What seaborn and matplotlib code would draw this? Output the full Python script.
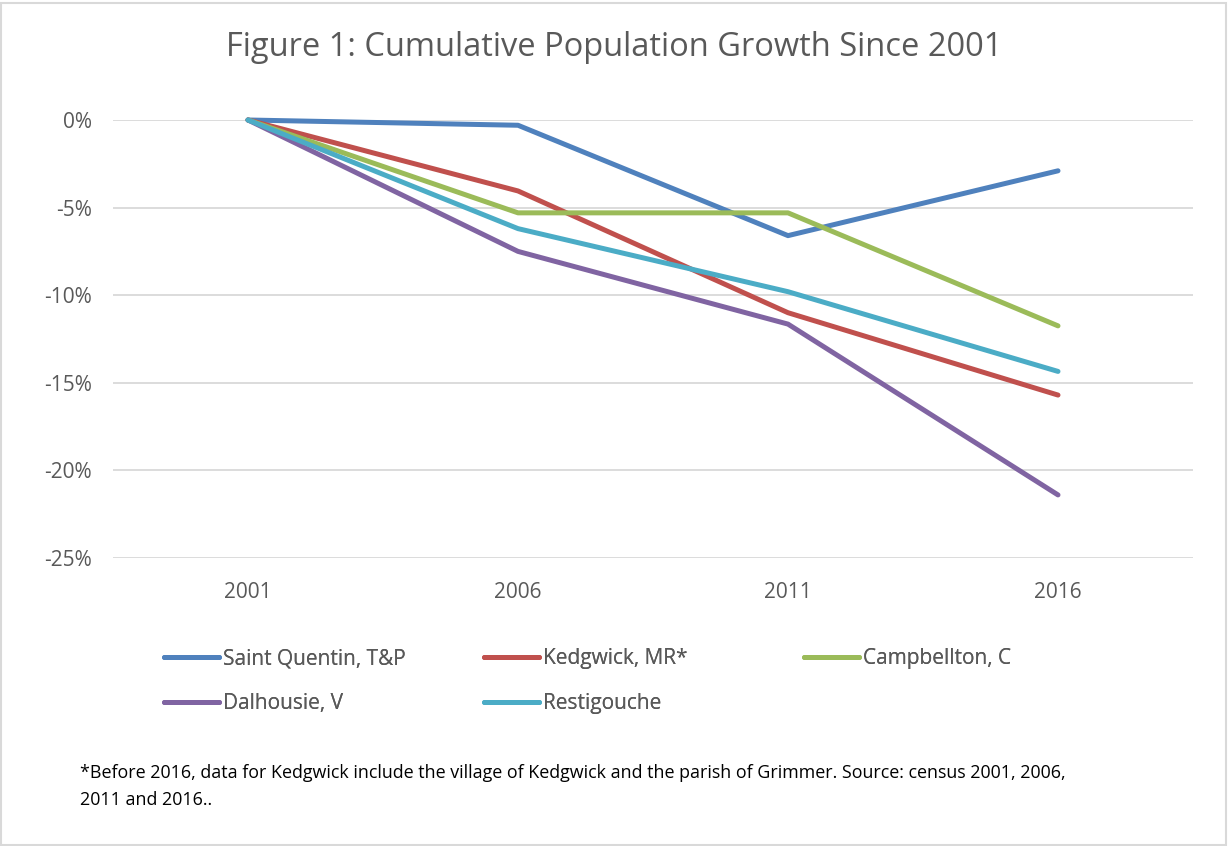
import matplotlib
matplotlib.use("Agg")
import matplotlib.pyplot as plt
from matplotlib.patches import Rectangle
from matplotlib.ticker import FuncFormatter
import seaborn as sns
import pandas as pd

years = ["2001", "2006", "2011", "2016"]
saint_quentin = [0.0, -0.3, -6.6, -2.9]
kedgwick = [0.0, -4.05, -11.0, -15.7]
campbellton = [0.0, -5.3, -5.3, -11.75]
dalhousie = [0.0, -7.5, -11.65, -21.4]
restigouche = [0.0, -6.2, -9.8, -14.35]

series_names = ["Saint Quentin, T&P", "Kedgwick, MR*", "Campbellton, C",
                "Dalhousie, V", "Restigouche"]
series_values = [saint_quentin, kedgwick, campbellton, dalhousie, restigouche]
colors = ["#4F81BD", "#C0504D", "#9BBB59", "#8064A2", "#4BACC6"]

rows = []
for name, vals in zip(series_names, series_values):
    for yr, v in zip(years, vals):
        rows.append({"Year": yr, "Growth": v, "Area": name})
df = pd.DataFrame(rows)

sns.set_theme(style="white")
plt.rcParams["font.family"] = ["Open Sans", "DejaVu Sans"]
text_color = "#595959"

fig = plt.figure(figsize=(12.28, 8.46), dpi=100)
ax = fig.add_axes([113 / 1228, 1 - 558 / 846, (1193 - 113) / 1228, (558 - 120) / 846])

sns.lineplot(data=df, x="Year", y="Growth", hue="Area", hue_order=series_names,
             palette=colors, linewidth=3.6, ax=ax, sort=False, legend=True)
for line in ax.lines:
    line.set_clip_on(False)
    line.set_solid_capstyle("round")

ax.set_ylim(-25, 0)
ax.set_xlim(-0.5, 3.5)
ax.set_yticks([0, -5, -10, -15, -20, -25])
ax.yaxis.set_major_formatter(FuncFormatter(lambda v, p: f"{int(round(v))}%"))
ax.grid(axis="y", color="#D9D9D9", linewidth=1.3)
ax.set_axisbelow(True)
for s in ax.spines.values():
    s.set_visible(False)
ax.set_xlabel("")
ax.set_ylabel("")
ax.tick_params(axis="both", length=0, labelsize=15, labelcolor=text_color)
ax.tick_params(axis="y", pad=15)
ax.tick_params(axis="x", pad=17)

handles, labels = ax.get_legend_handles_labels()
ax.get_legend().remove()

# legend laid out as three fixed-width columns
columns = [[0, 3], [1, 4], [2]]
col_x = [160, 480, 800]
for xs, idx in zip(col_x, columns):
    leg = fig.legend([handles[i] for i in idx], [labels[i] for i in idx],
                     ncol=1, loc="upper left",
                     bbox_to_anchor=(xs / 1228, 1 - 644 / 846),
                     frameon=False, fontsize=15, handlelength=2.64,
                     handletextpad=0.2, labelspacing=1.15,
                     labelcolor=text_color, borderaxespad=0, borderpad=0.2)
    for h in leg.get_lines():
        h.set_linewidth(3.6)
        h.set_solid_capstyle("round")
    fig.add_artist(leg)

fig.text(0.5, 1 - 48 / 846, "Figure 1: Cumulative Population Growth Since 2001",
         ha="center", va="center", fontsize=23.5, color=text_color)

fig.text(80 / 1228, 1 - 773 / 846,
         "*Before 2016, data for Kedgwick include the village of Kedgwick and the parish of Grimmer. Source: census 2001, 2006,",
         ha="left", va="center", fontsize=12.9, color="#000000")
fig.text(80 / 1228, 1 - 800 / 846, "2011 and 2016..",
         ha="left", va="center", fontsize=12.9, color="#000000")

fig.patches.append(Rectangle((1.5 / 1228, 1.5 / 846), 1 - 4 / 1228, 1 - 5 / 846,
                             transform=fig.transFigure, fill=False,
                             edgecolor="#D9D9D9", linewidth=1.5))

fig.savefig("out.png", dpi=100)
